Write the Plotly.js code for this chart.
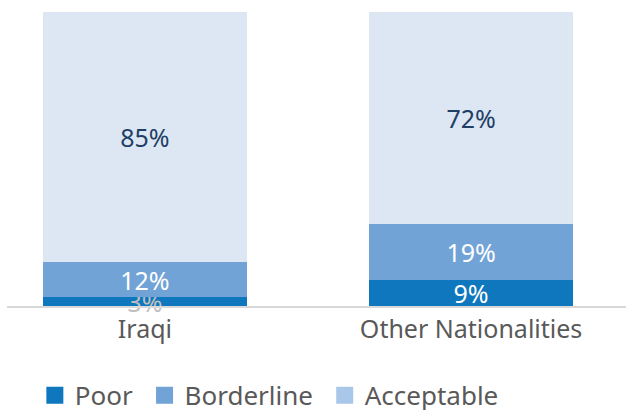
<!DOCTYPE html>
<html>
<head>
<meta charset="utf-8">
<script src="https://cdn.plot.ly/plotly-3.0.1.min.js"></script>
<style>html,body{margin:0;padding:0;background:#fff}#chart{width:626px;height:410px}</style>
</head>
<body>
<div id="chart"></div>
<script>
const categories = ["Iraqi", "Other Nationalities"];
const poor = [3, 9];
const borderline = [12, 19];
const acceptable = [85, 72];
const seriesNames = ["Poor", "Borderline", "Acceptable"];
const barColors = ["#0E77BD", "#71A3D6", "#DDE7F3"];
const legendColors = ["#0E77BD", "#71A3D6", "#A9C7E8"];
const poorLabelColors = ["#BFBFBF", "#FFFFFF"];

const font = "Noto Sans, Open Sans, sans-serif";
const pct = v => v.map(x => x + "%");

function barTrace(name, vals, color, textColor) {
  return {
    type: "bar", name: name, x: categories, y: vals,
    marker: {color: color},
    text: pct(vals), textposition: "inside", insidetextanchor: "middle",
    constraintext: "none", cliponaxis: false,
    textfont: {family: font, size: 25, color: textColor},
    hoverinfo: "skip", showlegend: false, width: 0.625
  };
}

const traces = [
  barTrace(seriesNames[0], poor, barColors[0], poorLabelColors),
  barTrace(seriesNames[1], borderline, barColors[1], "#FFFFFF"),
  barTrace(seriesNames[2], acceptable, barColors[2], "#1F3F66")
];
seriesNames.forEach((n, i) => {
  traces.push({type: "scatter", mode: "markers", name: n + "\u00a0", x: categories, y: [null, null],
    marker: {color: legendColors[i], symbol: "square", size: 14, line: {color: legendColors[i], width: 3}},
    showlegend: true, hoverinfo: "skip"});
});

const layout = {
  width: 626, height: 410,
  margin: {l: 7, r: 0, t: 12, b: 104, autoexpand: false},
  barmode: "stack",
  paper_bgcolor: "#fff", plot_bgcolor: "#fff",
  font: {family: font, color: "#595959"},
  xaxis: {
    type: "category", range: [-0.423, 1.475],
    showline: true, linecolor: "#D9D9D9", linewidth: 1.5,
    ticks: "", tickfont: {family: font, size: 25, color: "#595959"},
    showgrid: false, zeroline: false, fixedrange: true
  },
  yaxis: {range: [0, 100], visible: false, fixedrange: true},
  legend: {
    orientation: "h", x: 0.045, xanchor: "left",
    yref: "container", y: 0.036, yanchor: "middle",
    font: {family: font, size: 26, color: "#595959"},
    traceorder: "normal", itemwidth: 30, itemsizing: "trace"
  },
  showlegend: true
};

Plotly.newPlot("chart", traces, layout, {displayModeBar: false, staticPlot: true});
</script>
</body>
</html>
